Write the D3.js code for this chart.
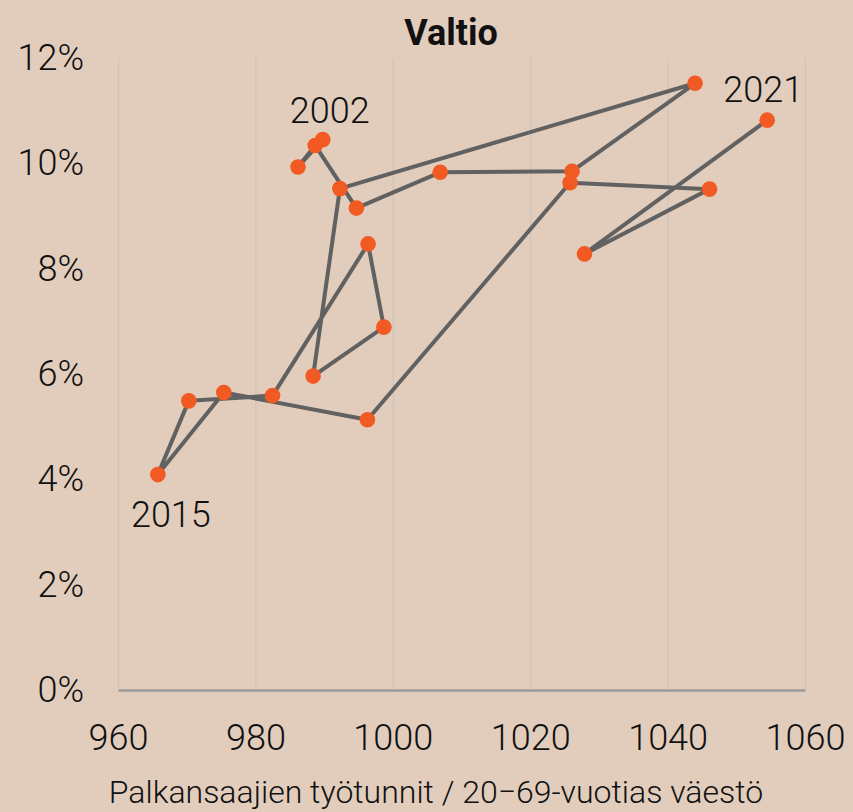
<!DOCTYPE html>
<html>
<head>
<meta charset="utf-8">
<script src="https://cdn.jsdelivr.net/npm/d3@7"></script>
<style>
  body { margin: 0; background: #e2cdbc; }
  svg { display: block; font-family: Roboto, "Noto Sans", sans-serif; }
</style>
</head>
<body>
<div id="chart"></div>
<script>
// vuodet, työtunnit ja osuus
var years = [2002, 2003, 2004, 2005, 2006, 2007, 2008, 2009, 2010, 2011,
             2012, 2013, 2014, 2015, 2016, 2017, 2018, 2019, 2020, 2021];
var hours = [989.8, 986.2, 988.7, 994.7, 1006.9, 1026.1, 1044.0, 992.3, 988.4, 998.7,
             996.4, 982.5, 970.3, 965.8, 975.4, 996.3, 1025.8, 1046.1, 1027.9, 1054.5];
var share = [0.1045, 0.0993, 0.1034, 0.0915, 0.0983, 0.0985, 0.1152, 0.0952, 0.0596, 0.0689,
             0.0847, 0.0559, 0.0549, 0.0409, 0.0565, 0.0513, 0.0963, 0.0951, 0.0828, 0.1082];
var xTicks = [960, 980, 1000, 1020, 1040, 1060];
var yTicks = [0, 0.02, 0.04, 0.06, 0.08, 0.10, 0.12];
var labelYears = [2002, 2015, 2021];

var width = 853,
    height = 812;

var svg = d3.select("#chart")
    .append("svg")
    .attr("width", width)
    .attr("height", height);

var x = d3.scaleLinear().domain([960, 1060]).range([118, 805]);
var y = d3.scaleLinear().domain([0, 0.12]).range([690, 58]);

var data = years.map(function(yr, i) {
    return {year: yr, h: hours[i], s: share[i]};
});

// x-akseli + pystyviivat
var xAxis = svg.append("g")
    .attr("transform", "translate(0,690)")
    .call(d3.axisBottom(x).tickValues(xTicks).tickFormat(d3.format("d"))
        .tickSize(-(690 - 58)).tickSizeOuter(0));

xAxis.selectAll(".tick line")
    .attr("stroke", "#c6c3c0")
    .attr("stroke-width", 1);
xAxis.select(".domain")
    .attr("stroke", "#9c9a98")
    .attr("stroke-width", 2.5);
xAxis.selectAll(".tick text")
    .attr("y", 60)
    .attr("dy", 0)
    .attr("font-size", 36)
    .attr("font-weight", 300)
    .attr("font-family", "Roboto, sans-serif")
    .attr("fill", "#111");

// y-akseli
var yAxis = svg.append("g")
    .attr("transform", "translate(84,0)")
    .call(d3.axisLeft(y).tickValues(yTicks).tickFormat(d3.format(".0%")).tickSize(0).tickPadding(0));

yAxis.select(".domain").remove();
yAxis.selectAll(".tick text")
    .attr("dy", "0.32em")
    .attr("font-size", 36)
    .attr("font-weight", 300)
    .attr("font-family", "Roboto, sans-serif")
    .attr("fill", "#111");

// viiva
var line = d3.line()
    .x(function(d) { return x(d.h); })
    .y(function(d) { return y(d.s); });

svg.append("path")
    .datum(data)
    .attr("d", line)
    .attr("fill", "none")
    .attr("stroke", "#616161")
    .attr("stroke-width", 4)
    .attr("stroke-linejoin", "round");

svg.selectAll("circle")
    .data(data)
    .enter().append("circle")
    .attr("cx", function(d) { return x(d.h); })
    .attr("cy", function(d) { return y(d.s); })
    .attr("r", 7.8)
    .attr("fill", "#f15a22");

// vuosien nimiöt
var labelOffset = {2002: [7, -17], 2015: [13, 52], 2021: [-4, -18]};

svg.selectAll(".yearlabel")
    .data(data.filter(function(d) { return labelYears.indexOf(d.year) >= 0; }))
    .enter().append("text")
    .attr("class", "yearlabel")
    .attr("x", function(d) { return x(d.h) + labelOffset[d.year][0]; })
    .attr("y", function(d) { return y(d.s) + labelOffset[d.year][1]; })
    .attr("text-anchor", "middle")
    .attr("font-size", 36)
    .attr("font-weight", 300)
    .attr("fill", "#111")
    .text(function(d) { return d.year; });

svg.append("text")
    .attr("x", 451)
    .attr("y", 45)
    .attr("text-anchor", "middle")
    .attr("font-size", 36)
    .attr("font-weight", 700)
    .attr("fill", "#111")
    .text("Valtio");

svg.append("text")
    .attr("x", 436)
    .attr("y", 803)
    .attr("text-anchor", "middle")
    .attr("font-size", 32)
    .attr("font-weight", 300)
    .attr("fill", "#111")
    .text("Palkansaajien työtunnit / 20−69-vuotias väestö");
</script>
</body>
</html>
